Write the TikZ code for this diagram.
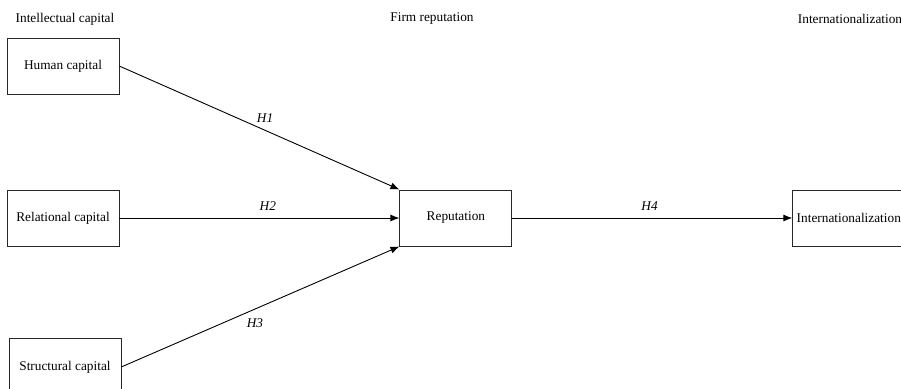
\documentclass[tikz,border=0pt]{standalone}
\usepackage{fontspec}
\setmainfont{Liberation Serif}
\usepackage{xcolor}
\definecolor{boxgray}{RGB}{40, 40, 40}
\usepackage{tikz}
\usetikzlibrary{arrows.meta, positioning}

\begin{document}
\begin{tikzpicture}[x=1pt, y=-1pt, node distance=280pt, auto,
        block/.style={rectangle, draw=boxgray, line width=0.9pt, minimum width=112pt, minimum height=56pt, inner sep=2pt, text centered, font=\fontsize{13.3}{16}\selectfont},
        head/.style={font=\fontsize{13.3}{16}\selectfont, inner sep=0pt},
        hyp/.style={font=\fontsize{13.3}{16}\selectfont\itshape, inner sep=1pt},
        line/.style={draw=black, -{Latex[length=9pt, width=7pt]}, line width=0.9pt}]
        \useasboundingbox (0,0) rectangle (901,388);

        % Cabeceras
        \node [head] (hicap) at (65,19) {Intellectual capital};
        \node [head] (hrep) at (432,19) {Firm reputation};
        \node [head] (hint) at (850,19) {Internationalization};

        % Columna izquierda
        \node [block] (relational) at (63,218) {Relational capital};
        \node [block, above=95pt of relational] (human) {Human capital};
        \node [block, below=92pt of relational, xshift=2pt] (structural) {Structural capital};

        % Centro y derecha
        \node [block, right=280pt of relational] (reputation) {Reputation};
        \node [block, right=280pt of reputation] (intl) {Internationalization};

        \path [line] (human.east) -- node [hyp, above=6pt, pos=0.52] {H1} (reputation.north west);
        \path [line] (relational) -- node [hyp, above=6pt, pos=0.53] {H2} (reputation);
        \path [line] (structural.east) -- node [hyp, below=8pt, pos=0.48] {H3} (reputation.south west);
        \path [line] (reputation) -- node [hyp, above=6pt, pos=0.49] {H4} (intl);
    \end{tikzpicture}
\end{document}
